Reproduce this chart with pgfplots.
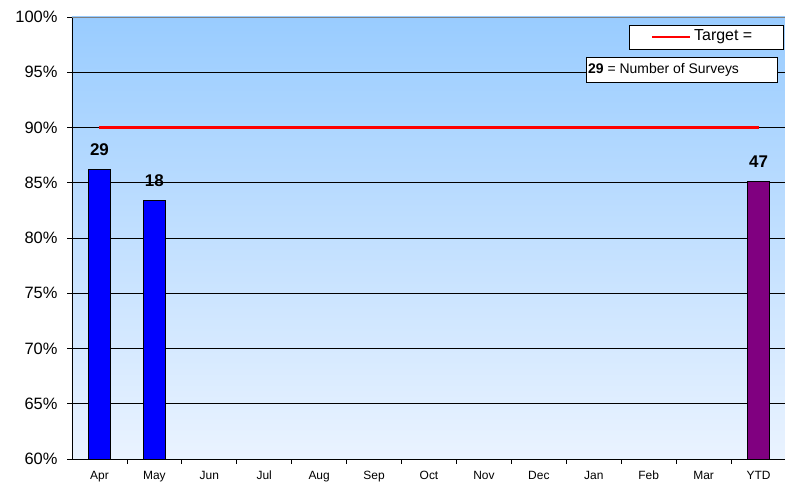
\documentclass[border=0pt]{standalone}
\usepackage{pgfplots}
\pgfplotsset{compat=1.18}
\usepackage{fontspec}
\setmainfont{Liberation Sans}
\definecolor{bgtop}{RGB}{153,204,255}
\definecolor{bgbot}{RGB}{234,243,255}
\definecolor{barblue}{RGB}{0,0,255}
\definecolor{barpurple}{RGB}{128,0,128}
\begin{document}
\begin{tikzpicture}[x=1bp,y=1bp]
\useasboundingbox (-72,-29) rectangle (713,459);
\begin{axis}[
    at={(0,0)}, anchor=south west,
    scale only axis, width=714bp, height=442bp,
    xmin=-0.5, xmax=12.5, ymin=60, ymax=100,
    axis background/.style={top color=bgtop, bottom color=bgbot},
    axis x line*=bottom, axis y line*=left,
    axis line style={black, line width=0.9bp},
    ytick={60,65,...,95},
    extra y ticks={100},
    extra y tick style={major grid style={gray, line width=0.8bp}},
    yticklabel={\pgfmathprintnumber{\tick}\%},
    ymajorgrids, major grid style={black, line width=0.7bp},
    xtick={0,...,12},
    xticklabels={Apr,May,Jun,Jul,Aug,Sep,Oct,Nov,Dec,Jan,Feb,Mar,YTD},
    major x tick style={draw=none},
    minor x tick num=1, minor tick length=5bp,
    minor x tick style={black, line width=0.7bp},
    major tick length=5bp, tick align=outside,
    major y tick style={black, line width=0.7bp},
    y tick label style={font=\fontsize{16.5}{17}\selectfont, xshift=-6bp},
    x tick label style={font=\fontsize{12}{13}\selectfont, text height=0.72em, text depth=0.21em, yshift=-5bp},
    /pgf/number format/assume math mode=true,
]
\addplot[ybar, bar width=22bp, bar shift=0pt, fill=barblue, draw=black, line width=0.8bp,
    nodes near coords, point meta=explicit symbolic,
    nodes near coords style={font=\bfseries\fontsize{17}{17}\selectfont, yshift=10bp}]
    coordinates {(0,86.2) [29] (1,83.4) [18]};
\addplot[ybar, bar width=22bp, bar shift=0pt, fill=barpurple, draw=black, line width=0.8bp,
    nodes near coords, point meta=explicit symbolic,
    nodes near coords style={font=\bfseries\fontsize{17}{17}\selectfont, yshift=10bp}]
    coordinates {(12,85.1) [47]};
\addplot[red, line width=2.6bp, mark=none] coordinates {(0,90) (12,90)};
\end{axis}
% legend boxes
\draw[black, line width=0.9bp, fill=white] (557,434) rectangle (711,410);
\draw[red, line width=2.6bp] (580,422) -- (618,422);
\node[anchor=west, inner sep=0pt, font=\fontsize{16}{16}\selectfont] at (622,422) {Target =};
\draw[black, line width=0.9bp, fill=white] (514,402) rectangle (705,377);
\node[anchor=west, inner sep=0pt, font=\fontsize{14}{14}\selectfont] at (516,389.5) {\textbf{29} = Number of Surveys};
\end{tikzpicture}
\end{document}
